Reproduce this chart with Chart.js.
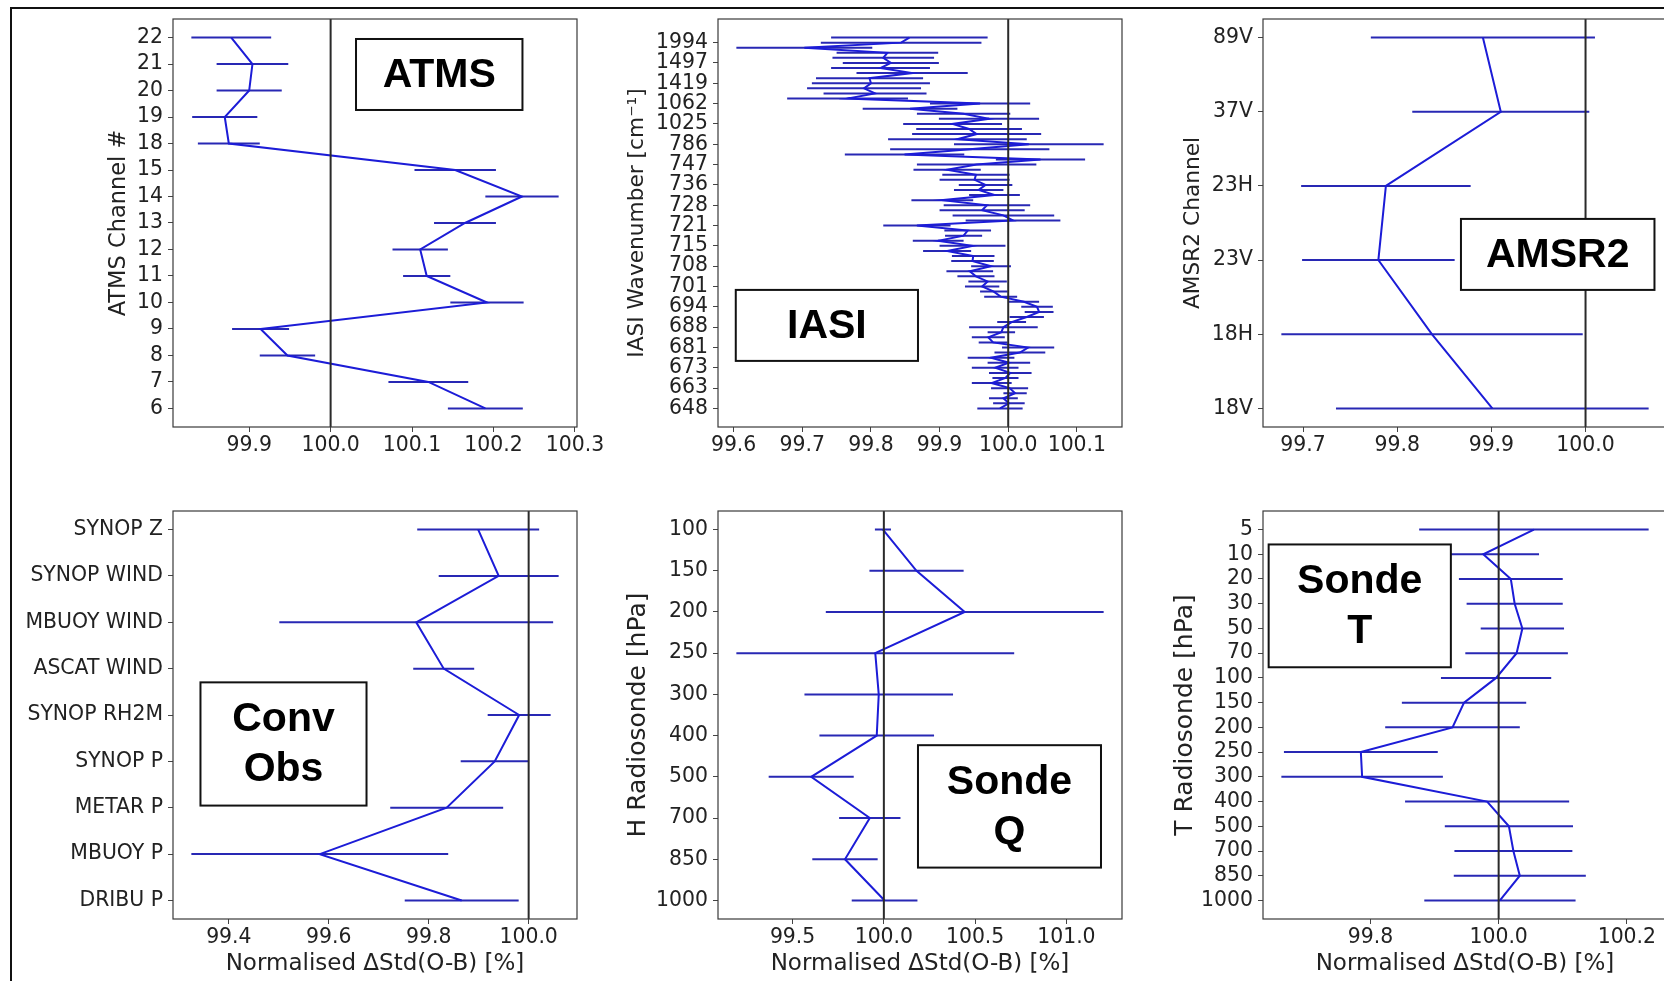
<!DOCTYPE html>
<html>
<head>
<meta charset="utf-8">
<title>Normalised ΔStd(O-B)</title>
<script src="https://cdn.jsdelivr.net/npm/chart.js@4.4.1/dist/chart.umd.min.js"></script>
<style>
body{margin:0;background:#fff;width:1664px;height:981px;overflow:hidden;position:relative;}
#frame{position:absolute;left:10px;top:7px;width:1700px;height:1000px;border-top:2px solid #111;border-left:2px solid #111;}
canvas{position:absolute;}
</style>
</head>
<body>
<div id="frame"></div>
<canvas id="atms"></canvas>
<canvas id="iasi"></canvas>
<canvas id="amsr2"></canvas>
<canvas id="conv"></canvas>
<canvas id="sondeQ"></canvas>
<canvas id="sondeT"></canvas>
<script>
// ATMS channels, top to bottom
const atmsChannels = ['22','21','20','19','18','15','14','13','12','11','10','9','8','7','6'];
const atmsMean = [99.878,99.904,99.900,99.870,99.875,100.153,100.235,100.165,100.110,100.118,100.192,99.914,99.947,100.120,100.190];
const atmsErr  = [0.049,0.044,0.040,0.040,0.038,0.050,0.045,0.038,0.034,0.029,0.045,0.035,0.034,0.049,0.046];
const atmsXTicks = [99.9,100.0,100.1,100.2,100.3];

// IASI channels, top to bottom; a wavenumber label every 4th channel
const iasiWavenumbers = ['1994','1497','1419','1062','1025','786','747','736','728','721','715','708','701','694','688','681','673','663','648'];
const iasiMean = [
  99.856,99.844,99.703,99.824,99.818,99.829,99.814,99.860,99.798,99.800,99.790,99.806,
  99.766,99.959,99.857,99.935,99.972,99.919,99.943,99.954,99.926,100.030,99.944,99.849,
  100.047,99.954,99.911,99.953,99.951,99.967,99.957,99.980,99.904,99.969,99.962,99.993,
  100.007,99.867,99.941,99.935,99.898,99.948,99.911,99.949,99.948,99.975,99.944,99.953,
  99.970,99.962,99.979,99.989,100.023,100.042,100.045,100.027,100.005,99.993,99.990,99.971,
  99.978,100.029,100.017,99.975,100.001,99.981,100.003,99.996,99.976,100.002,100.010,99.993,
  100.001,99.988];
const iasiErr = [
  0.114,0.117,0.099,0.074,0.074,0.070,0.072,0.081,0.078,0.086,0.083,0.075,
  0.088,0.073,0.069,0.068,0.073,0.072,0.077,0.094,0.101,0.109,0.116,0.087,
  0.065,0.087,0.049,0.049,0.051,0.039,0.036,0.037,0.045,0.063,0.062,0.074,
  0.069,0.049,0.034,0.027,0.037,0.048,0.035,0.031,0.031,0.029,0.034,0.027,
  0.028,0.025,0.020,0.024,0.022,0.023,0.021,0.025,0.021,0.050,0.020,0.024,
  0.021,0.038,0.037,0.034,0.031,0.034,0.031,0.019,0.029,0.027,0.017,0.021,
  0.023,0.033];
const iasiXTicks = [99.6,99.7,99.8,99.9,100.0,100.1];

const amsr2Channels = ['89V','37V','23H','23V','18H','18V'];
const amsr2Mean = [99.891,99.910,99.788,99.780,99.837,99.901];
const amsr2Err  = [0.119,0.094,0.090,0.081,0.160,0.166];
const amsr2XTicks = [99.7,99.8,99.9,100.0];

const convTypes = ['SYNOP Z','SYNOP WIND','MBUOY WIND','ASCAT WIND','SYNOP RH2M','SYNOP P','METAR P','MBUOY P','DRIBU P'];
const convMean = [99.899,99.940,99.775,99.830,99.981,99.932,99.836,99.582,99.866];
const convErr  = [0.122,0.120,0.274,0.061,0.063,0.068,0.113,0.257,0.114];
const convXTicks = [99.4,99.6,99.8,100.0];

const sondeQLevels = ['100','150','200','250','300','400','500','700','850','1000'];
const sondeQMean = [99.995,100.179,100.443,99.953,99.972,99.961,99.602,99.923,99.787,100.004];
const sondeQErr  = [0.044,0.258,0.761,0.761,0.407,0.314,0.233,0.168,0.179,0.180];
const sondeQXTicks = [99.5,100.0,100.5,101.0];

const sondeTLevels = ['5','10','20','30','50','70','100','150','200','250','300','400','500','700','850','1000'];
const sondeTMean = [100.055,99.976,100.019,100.025,100.037,100.028,99.996,99.946,99.928,99.785,99.787,99.982,100.016,100.023,100.033,100.002];
const sondeTErr  = [0.179,0.087,0.081,0.075,0.065,0.080,0.086,0.097,0.105,0.120,0.126,0.128,0.100,0.092,0.103,0.118];
const sondeTXTicks = [99.8,100.0,100.2];

const xTitle = 'Normalised ΔStd(O-B) [%]';

const PLOT_W = 404, PLOT_H = 408, PAD_T = 25, PAD_R = 30;
const TXT = '#222';
const FONT = '"DejaVu Sans", Verdana, sans-serif';
const TICK_SIZE = 20.4;
const LINE_BLUE = 'rgb(28,28,215)';
const BAR_BLUE = 'rgb(40,40,180)';

// reference line at 100 %, axes frame and the boxed panel label
const panelDecor = {
  id: 'panelDecor',
  afterDatasetsDraw(chart, args, opts){
    const {ctx, chartArea:a, scales:{x}} = chart;
    ctx.save();
    const px = x.getPixelForValue(100);
    ctx.strokeStyle = '#2a2a2a';
    ctx.lineWidth = 2;
    ctx.beginPath();
    ctx.moveTo(px, a.top);
    ctx.lineTo(px, a.bottom);
    ctx.stroke();

    ctx.strokeStyle = '#3a3a3a';
    ctx.lineWidth = 1.2;
    ctx.strokeRect(a.left, a.top, a.width, a.height);

    const b = opts.box;
    const bx = a.left + b.x0*a.width, by = a.top + b.y0*a.height;
    const bw = (b.x1-b.x0)*a.width, bh = (b.y1-b.y0)*a.height;
    ctx.fillStyle = '#fff';
    ctx.fillRect(bx, by, bw, bh);
    ctx.strokeStyle = '#111';
    ctx.lineWidth = 2;
    ctx.strokeRect(bx, by, bw, bh);

    ctx.fillStyle = '#000';
    ctx.font = 'bold 41px "Liberation Sans", Arial, sans-serif';
    ctx.textAlign = 'center';
    ctx.textBaseline = 'middle';
    const lines = opts.text;
    lines.forEach((t,i)=>{
      ctx.fillText(t, bx + bw/2, by + bh/2 + (i - (lines.length-1)/2)*50 + 1);
    });
    ctx.restore();
  }
};

function drawPanel(id, p){
  // y-axis band wide enough to put the title centre p.titleGap left of the plot
  const yTitleSize = p.yTitleSize || 22;
  const W = p.yTitle ? Math.round(p.titleGap + 0.6*yTitleSize) : p.axisWidth;
  const xTitleSize = 23;
  const H = p.xTitle ? 59 : 40;
  const canvas = document.getElementById(id);
  canvas.width = W + PLOT_W + PAD_R;
  canvas.height = PAD_T + PLOT_H + H;
  canvas.style.left = (p.left - W) + 'px';
  canvas.style.top = (p.top - PAD_T) + 'px';

  const n = p.mean.length;
  const yPos = k => n - 1 - k;   // first entry sits at the top

  const line = p.mean.map((v,k)=>({x:v, y:yPos(k)}));
  const bars = [];
  p.mean.forEach((v,k)=>{
    bars.push({x:v - p.err[k], y:yPos(k)}, {x:v + p.err[k], y:yPos(k)}, {x:v, y:null});
  });

  // matplotlib-like autoscale: data extent plus 5 % each side
  const lo = Math.min(...p.mean.map((v,k)=>v - p.err[k]));
  const hi = Math.max(...p.mean.map((v,k)=>v + p.err[k]));
  const mx = (hi - lo)*0.05, my = (n - 1)*0.05;

  const every = p.tickEvery || 1, start = p.tickStart || 0;
  const yTicks = p.labels.map((lab,j)=>yPos(start + j*every));

  new Chart(canvas, {
    type: 'scatter',
    data: {datasets: [
      {data: line, showLine: true, borderColor: LINE_BLUE, borderWidth: 2, pointRadius: 0, order: 0},
      {data: bars, showLine: true, spanGaps: false, borderColor: BAR_BLUE, borderWidth: 2, pointRadius: 0, order: 1}
    ]},
    options: {
      responsive: false,
      animation: false,
      devicePixelRatio: 1,
      events: [],
      layout: {padding: {top: PAD_T, right: PAD_R, left: 0, bottom: 0}},
      plugins: {
        legend: {display: false},
        tooltip: {enabled: false},
        panelDecor: {box: p.box, text: p.boxText}
      },
      scales: {
        x: {
          type: 'linear',
          min: lo - mx, max: hi + mx,
          afterBuildTicks: s => { s.ticks = p.xTicks.map(v=>({value:v})); },
          afterFit: s => { s.height = H; },
          ticks: {autoSkip: false, maxRotation: 0, padding: 1, color: TXT,
                  font: {family: FONT, size: TICK_SIZE}, callback: v => Number(v).toFixed(1)},
          grid: {drawOnChartArea: false, tickLength: 5, color: '#444'},
          border: {display: false},
          title: {display: !!p.xTitle, text: p.xTitle || '', color: TXT, padding: 0,
                  font: {family: FONT, size: xTitleSize}}
        },
        y: {
          type: 'linear',
          min: -my, max: n - 1 + my,
          afterBuildTicks: s => { s.ticks = yTicks.map(v=>({value:v})); },
          afterFit: s => { s.width = W; },
          ticks: {autoSkip: false, padding: 5, color: TXT,
                  font: {family: FONT, size: TICK_SIZE}, callback: (v,i) => p.labels[i]},
          grid: {drawOnChartArea: false, tickLength: 5, color: '#444'},
          border: {display: false},
          title: {display: !!p.yTitle, text: p.yTitle || '', color: TXT, padding: 0,
                  font: {family: FONT, size: yTitleSize}}
        }
      }
    },
    plugins: [panelDecor]
  });
}

const TOP_ROW = 19, BOTTOM_ROW = 511;

drawPanel('atms', {
  left: 173, top: TOP_ROW, titleGap: 53, yTitleSize: 22.5,
  labels: atmsChannels, mean: atmsMean, err: atmsErr, xTicks: atmsXTicks,
  yTitle: 'ATMS Channel #',
  box: {x0:0.453, y0:0.049, x1:0.865, y1:0.223}, boxText: ['ATMS']
});
drawPanel('iasi', {
  left: 718, top: TOP_ROW, titleGap: 81, yTitleSize: 21.7,
  labels: iasiWavenumbers, tickEvery: 4, tickStart: 1,
  mean: iasiMean, err: iasiErr, xTicks: iasiXTicks,
  yTitle: 'IASI Wavenumber [cm⁻¹]',
  box: {x0:0.044, y0:0.664, x1:0.495, y1:0.838}, boxText: ['IASI']
});
drawPanel('amsr2', {
  left: 1263, top: TOP_ROW, titleGap: 70, yTitleSize: 21.7,
  labels: amsr2Channels, mean: amsr2Mean, err: amsr2Err, xTicks: amsr2XTicks,
  yTitle: 'AMSR2 Channel',
  box: {x0:0.490, y0:0.490, x1:0.969, y1:0.664}, boxText: ['AMSR2']
});
drawPanel('conv', {
  left: 173, top: BOTTOM_ROW, axisWidth: 165,
  labels: convTypes, mean: convMean, err: convErr, xTicks: convXTicks,
  xTitle: xTitle,
  box: {x0:0.068, y0:0.420, x1:0.479, y1:0.722}, boxText: ['Conv','Obs']
});
drawPanel('sondeQ', {
  left: 718, top: BOTTOM_ROW, titleGap: 80, yTitleSize: 25,
  labels: sondeQLevels, mean: sondeQMean, err: sondeQErr, xTicks: sondeQXTicks,
  yTitle: 'H Radiosonde [hPa]', xTitle: xTitle,
  box: {x0:0.495, y0:0.574, x1:0.948, y1:0.874}, boxText: ['Sonde','Q']
});
drawPanel('sondeT', {
  left: 1263, top: BOTTOM_ROW, titleGap: 78, yTitleSize: 25,
  labels: sondeTLevels, mean: sondeTMean, err: sondeTErr, xTicks: sondeTXTicks,
  yTitle: 'T Radiosonde [hPa]', xTitle: xTitle,
  box: {x0:0.014, y0:0.082, x1:0.465, y1:0.383}, boxText: ['Sonde','T']
});
</script>
</body>
</html>
